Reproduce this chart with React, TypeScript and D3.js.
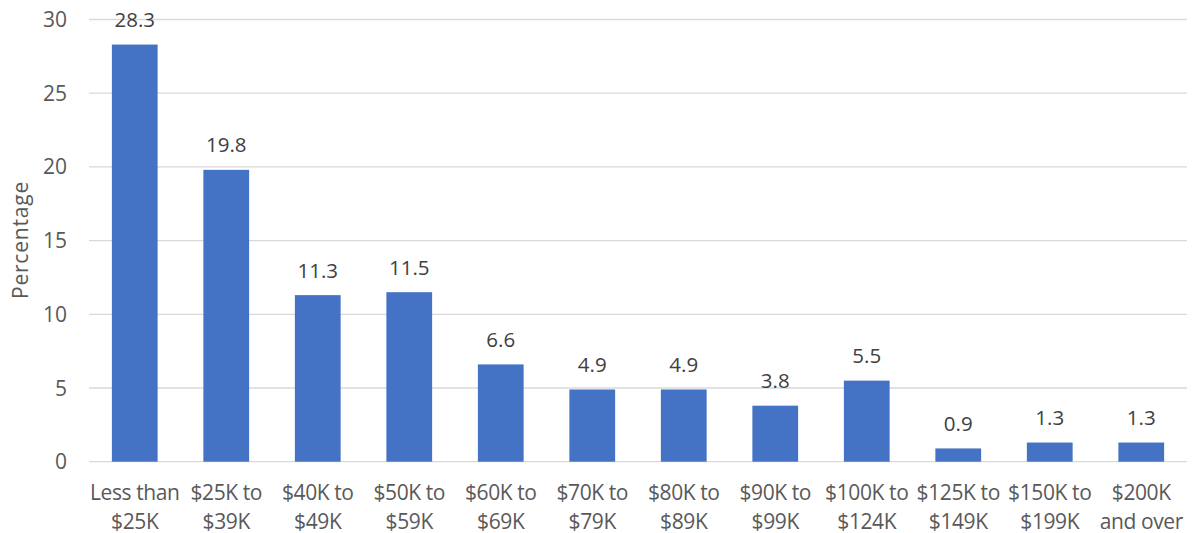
import React, { useEffect, useRef } from "react";
import * as d3 from "d3";

const categories: string[][] = [
  ["Less than", "$25K"],
  ["$25K to", "$39K"],
  ["$40K to", "$49K"],
  ["$50K to", "$59K"],
  ["$60K to", "$69K"],
  ["$70K to", "$79K"],
  ["$80K to", "$89K"],
  ["$90K to", "$99K"],
  ["$100K to", "$124K"],
  ["$125K to", "$149K"],
  ["$150K to", "$199K"],
  ["$200K", "and over"],
];
const values: number[] = [28.3, 19.8, 11.3, 11.5, 6.6, 4.9, 4.9, 3.8, 5.5, 0.9, 1.3, 1.3];
const yTicks: number[] = [0, 5, 10, 15, 20, 25, 30];

const W = 1192;
const H = 533;
const FONT = "'Open Sans', 'Noto Sans', sans-serif";
const TXT = "#595959";

export default function App() {
  const ref = useRef<SVGSVGElement>(null);
  useEffect(() => {
    const svg = d3.select(ref.current);
    svg.selectAll("*").remove();
    const left = 89, right = 1187, top = 19.5, bottom = 461.7;
    const x = d3.scaleBand<number>().domain(d3.range(values.length)).range([left, right]).paddingInner(0.5).paddingOuter(0.25);
    const y = d3.scaleLinear().domain([0, 30]).range([bottom, top]);

    const g = svg.append("g");
    g.selectAll("line.grid").data(yTicks).enter().append("line")
      .attr("x1", left).attr("x2", right)
      .attr("y1", (d) => y(d)).attr("y2", (d) => y(d))
      .attr("stroke", "#d9d9d9").attr("stroke-width", 1.3);

    g.selectAll("text.ytick").data(yTicks).enter().append("text")
      .attr("x", 67).attr("y", (d) => y(d)).attr("dy", "0.36em")
      .attr("text-anchor", "end").attr("font-size", 21).attr("font-family", FONT).attr("fill", TXT)
      .text((d) => String(d));

    g.selectAll("rect.bar").data(values).enter().append("rect")
      .attr("x", (_, i) => x(i)!).attr("width", x.bandwidth())
      .attr("y", (d) => y(d)).attr("height", (d) => bottom - y(d))
      .attr("fill", "#4472C4");

    g.selectAll("text.val").data(values).enter().append("text")
      .attr("x", (_, i) => x(i)! + x.bandwidth() / 2).attr("y", (d) => y(d) - 17.5)
      .attr("text-anchor", "middle").attr("font-size", 20.5).attr("font-family", FONT).attr("fill", "#404040")
      .text((d) => d.toFixed(1));

    const cat = g.selectAll("text.cat").data(categories).enter().append("text")
      .attr("text-anchor", "middle").attr("font-size", 21).attr("font-family", FONT).attr("fill", TXT)
      .attr("letter-spacing", "-0.4");
    cat.each(function (d, i) {
      const t = d3.select(this);
      d.forEach((line, j) => {
        t.append("tspan").attr("x", x(i)! + x.bandwidth() / 2).attr("y", 500 + j * 28.5).text(line);
      });
    });

    g.append("text")
      .attr("transform", `translate(28,${240}) rotate(-90)`)
      .attr("text-anchor", "middle").attr("font-size", 21).attr("font-family", FONT).attr("fill", TXT)
      .attr("letter-spacing", "0.8")
      .text("Percentage");
  }, []);
  return <svg ref={ref} width={W} height={H} style={{ display: "block", position: "absolute", left: 0, top: 0 }} />;
}
